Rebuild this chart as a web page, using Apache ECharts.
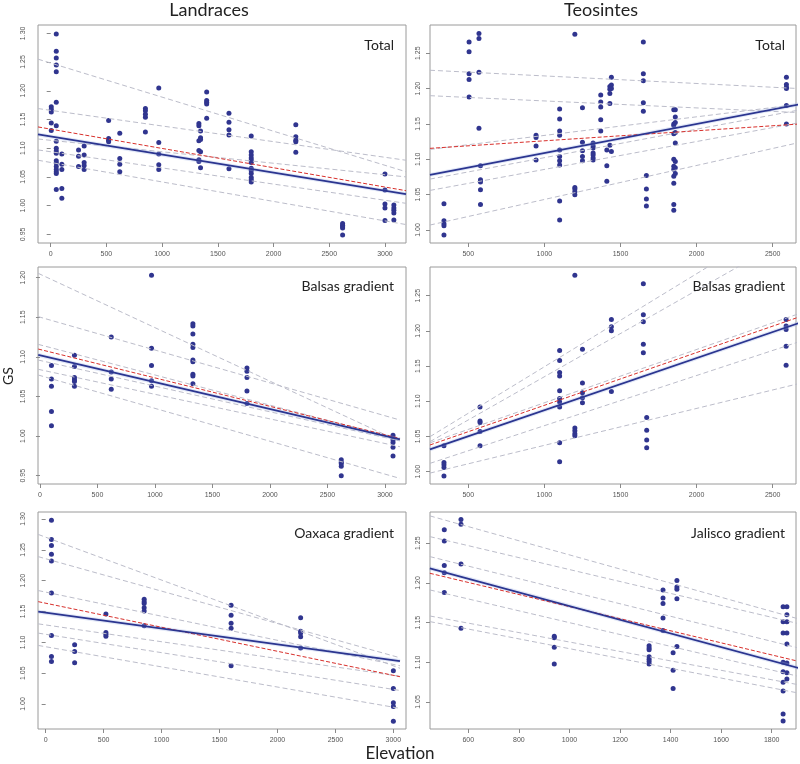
<!DOCTYPE html>
<html>
<head>
<meta charset="utf-8">
<script src="https://cdn.jsdelivr.net/npm/echarts@6/dist/echarts.min.js"></script>
<style>html,body{margin:0;padding:0;background:#fff;}#c{width:800px;height:764px;}</style>
</head>
<body>
<div id="c"></div>
<script>
// ---------- DATA ----------
// Landraces – Total
const landTotalElev = [5, 50, 100, 250, 300, 520, 620, 850, 970, 1330, 1345, 1400, 1600, 1800, 2200, 2620, 3000, 3080];
const landTotalGS = [
  [1.172, 1.168, 1.163, 1.144, 1.131],
  [1.299, 1.269, 1.257, 1.245, 1.233, 1.180, 1.139, 1.112, 1.100, 1.095, 1.091, 1.078, 1.074, 1.068, 1.063, 1.059, 1.056, 1.028],
  [1.090, 1.072, 1.063, 1.030, 1.013],
  [1.097, 1.086, 1.068],
  [1.104, 1.088, 1.075, 1.070, 1.063],
  [1.148, 1.117, 1.114, 1.111],
  [1.126, 1.082, 1.072, 1.059],
  [1.169, 1.165, 1.159, 1.154, 1.128],
  [1.205, 1.110, 1.090, 1.071, 1.063],
  [1.143, 1.139, 1.113, 1.096, 1.080, 1.077],
  [1.130, 1.118, 1.115, 1.094, 1.066],
  [1.198, 1.183, 1.180, 1.177, 1.152],
  [1.161, 1.145, 1.132, 1.123, 1.064],
  [1.121, 1.094, 1.088, 1.083, 1.079, 1.075, 1.065, 1.061, 1.056, 1.049, 1.045, 1.041],
  [1.141, 1.120, 1.114, 1.111, 1.093],
  [0.969, 0.966, 0.963, 0.961, 0.949],
  [1.055, 1.027, 1.003, 0.996, 0.974],
  [1.001, 0.996, 0.992, 0.987, 0.975]
];
const landTotalBlue = [[-114, 1.124], [3189, 1.020]];
const landTotalRed = [[-114, 1.137], [3189, 1.026]];
const landTotalGrey = [
  [[-114, 1.255], [3189, 1.059]],
  [[-114, 1.169], [3189, 1.079]],
  [[-114, 1.116], [3189, 1.050]],
  [[-114, 1.097], [3189, 1.004]],
  [[-114, 1.079], [3189, 0.967]]
];

// Teosintes – Total
const teoTotalElev = [340, 505, 570, 580, 945, 1100, 1200, 1250, 1320, 1370, 1410, 1430, 1440, 1650, 1670, 1850, 1860, 2590];
const teoTotalGS = [
  [1.037, 1.013, 1.009, 1.006, 0.993],
  [1.266, 1.252, 1.221, 1.213, 1.188],
  [1.278, 1.271, 1.223, 1.144],
  [1.091, 1.071, 1.068, 1.057, 1.036],
  [1.134, 1.131, 1.119, 1.099],
  [1.171, 1.157, 1.140, 1.134, 1.113, 1.104, 1.098, 1.092, 1.041, 1.014],
  [1.277, 1.060, 1.058, 1.054, 1.050],
  [1.173, 1.124, 1.112, 1.104, 1.098],
  [1.123, 1.119, 1.116, 1.109, 1.106, 1.102, 1.099],
  [1.191, 1.181, 1.174, 1.156, 1.140],
  [1.113, 1.091, 1.069],
  [1.203, 1.199, 1.193, 1.179, 1.120],
  [1.216, 1.205, 1.200, 1.111],
  [1.266, 1.221, 1.211, 1.180, 1.168],
  [1.077, 1.058, 1.044, 1.034],
  [1.170, 1.150, 1.148, 1.136, 1.100, 1.090, 1.086, 1.076, 1.066, 1.036, 1.028],
  [1.170, 1.160, 1.152, 1.138, 1.123, 1.097, 1.088, 1.080],
  [1.216, 1.206, 1.202, 1.200, 1.176, 1.150]
];
const teoTotalBlue = [[248, 1.078], [2680, 1.178]];
const teoTotalRed = [[248, 1.1155], [2680, 1.150]];
const teoTotalGrey = [
  [[248, 1.226], [2680, 1.200]],
  [[248, 1.190], [2680, 1.166]],
  [[248, 1.114], [2680, 1.178]],
  [[248, 1.072], [2680, 1.170]],
  [[248, 1.056], [2680, 1.152]],
  [[248, 1.007], [2680, 1.124]]
];

// Landraces – Balsas gradient
const landBalsasElev = [100, 300, 620, 970, 1330, 1800, 2620, 3070];
const landBalsasGS = [
  [1.089, 1.072, 1.063, 1.031, 1.013],
  [1.102, 1.088, 1.074, 1.071, 1.069, 1.063],
  [1.125, 1.081, 1.072, 1.059],
  [1.203, 1.111, 1.089, 1.070, 1.063],
  [1.142, 1.139, 1.129, 1.116, 1.112, 1.096, 1.094, 1.078, 1.076, 1.066],
  [1.086, 1.082, 1.074, 1.057, 1.041],
  [0.970, 0.967, 0.965, 0.962, 0.950],
  [1.001, 0.998, 0.995, 0.992, 0.986, 0.975]
];
const landBalsasBlue = [[-15, 1.1024], [3130, 0.9959]];
const landBalsasRed = [[-15, 1.1099], [3130, 0.997]];
const landBalsasGrey = [
  [[-15, 1.2055], [3130, 0.993]],
  [[-15, 1.1508], [3130, 1.0203]],
  [[-15, 1.1158], [3130, 0.996]],
  [[-15, 1.096], [3130, 0.994]],
  [[-15, 1.0843], [3130, 0.9866]],
  [[-15, 1.0771], [3130, 0.9466]]
];

// Teosintes – Balsas gradient
const teoBalsasElev = [340, 577, 1100, 1200, 1250, 1440, 1650, 1672, 2588];
const teoBalsasGS = [
  [1.037, 1.013, 1.010, 1.006, 0.994],
  [1.092, 1.072, 1.070, 1.057, 1.037],
  [1.172, 1.158, 1.141, 1.136, 1.115, 1.104, 1.099, 1.092, 1.041, 1.014],
  [1.279, 1.062, 1.058, 1.054, 1.051],
  [1.174, 1.126, 1.112, 1.105, 1.098],
  [1.216, 1.206, 1.200, 1.114],
  [1.267, 1.223, 1.213, 1.181, 1.169],
  [1.077, 1.059, 1.045, 1.034],
  [1.216, 1.207, 1.202, 1.178, 1.151]
];
const teoBalsasBlue = [[248, 1.0317], [2680, 1.2116]];
const teoBalsasRed = [[248, 1.0379], [2680, 1.2202]];
const teoBalsasGrey = [
  [[248, 1.0497], [2680, 1.371]],
  [[248, 1.0426], [2680, 1.341]],
  [[248, 1.041], [2680, 1.225]],
  [[248, 1.0118], [2680, 1.185]],
  [[248, 0.998], [2680, 1.1255]]
];

// Landraces – Oaxaca gradient
const landOaxacaElev = [50, 250, 520, 850, 1600, 2200, 3000];
const landOaxacaGS = [
  [1.298, 1.267, 1.257, 1.243, 1.232, 1.180, 1.111, 1.077, 1.069],
  [1.096, 1.085, 1.067],
  [1.146, 1.116, 1.113, 1.110],
  [1.170, 1.166, 1.163, 1.156, 1.151, 1.127],
  [1.160, 1.144, 1.131, 1.123, 1.062],
  [1.140, 1.118, 1.115, 1.109, 1.091],
  [1.054, 1.025, 1.002, 0.996, 0.972]
];
const landOaxacaBlue = [[-64, 1.1497], [3057, 1.0697]];
const landOaxacaRed = [[-64, 1.166], [3057, 1.0443]];
const landOaxacaGrey = [
  [[-64, 1.275], [3057, 1.058]],
  [[-64, 1.239], [3057, 1.075]],
  [[-64, 1.184], [3057, 1.062]],
  [[-64, 1.130], [3057, 1.045]],
  [[-64, 1.115], [3057, 1.022]],
  [[-64, 1.095], [3057, 0.993]]
];

// Teosintes – Jalisco gradient
const teoJaliscoElev = [505, 571, 940, 1315, 1370, 1410, 1425, 1845, 1860];
const teoJaliscoGS = [
  [1.267, 1.253, 1.222, 1.213, 1.188],
  [1.280, 1.274, 1.224, 1.143],
  [1.133, 1.131, 1.119, 1.098],
  [1.121, 1.118, 1.116, 1.107, 1.104, 1.101, 1.098],
  [1.191, 1.181, 1.174, 1.156, 1.140],
  [1.112, 1.090, 1.067],
  [1.203, 1.195, 1.192, 1.180, 1.120],
  [1.170, 1.151, 1.137, 1.100, 1.088, 1.075, 1.064, 1.035, 1.026],
  [1.170, 1.160, 1.151, 1.137, 1.123, 1.099, 1.087, 1.079]
];
const teoJaliscoBlue = [[448, 1.2185], [1912, 1.0924]];
const teoJaliscoRed = [[448, 1.2122], [1912, 1.1008]];
const teoJaliscoGrey = [
  [[448, 1.2845], [1912, 1.1542]],
  [[448, 1.2584], [1912, 1.1483]],
  [[448, 1.2332], [1912, 1.1176]],
  [[448, 1.1912], [1912, 1.0819]],
  [[448, 1.1584], [1912, 1.0714]],
  [[448, 1.1513], [1912, 1.0609]]
];

// Tick labels
const xTicksLand = [0, 500, 1000, 1500, 2000, 2500, 3000];
const xTicksTeo = [500, 1000, 1500, 2000, 2500];
const xTicksJalisco = [600, 800, 1000, 1200, 1400, 1600, 1800];
const yTicksLandTotal = [0.95, 1.00, 1.05, 1.10, 1.15, 1.20, 1.25, 1.30];
const yTicksTeoTotal = [1.00, 1.05, 1.10, 1.15, 1.20, 1.25];
const yTicksLandBalsas = [0.95, 1.00, 1.05, 1.10, 1.15, 1.20];
const yTicksTeoBalsas = [1.00, 1.05, 1.10, 1.15, 1.20, 1.25];
const yTicksLandOaxaca = [1.00, 1.05, 1.10, 1.15, 1.20, 1.25, 1.30];
const yTicksTeoJalisco = [1.05, 1.10, 1.15, 1.20, 1.25];

const columnTitles = ['Landraces', 'Teosintes'];
const panelLabels = ['Total', 'Total', 'Balsas gradient', 'Balsas gradient', 'Oaxaca gradient', 'Jalisco gradient'];
const yAxisName = 'GS';
const xAxisName = 'Elevation';

// ---------- BUILD ----------
const panels = [
  {elev: landTotalElev, gs: landTotalGS, blue: landTotalBlue, red: landTotalRed, grey: landTotalGrey,
   xr: [-114, 3189], yr: [0.9349, 1.3145], xt: xTicksLand, yt: yTicksLandTotal},
  {elev: teoTotalElev, gs: teoTotalGS, blue: teoTotalBlue, red: teoTotalRed, grey: teoTotalGrey,
   xr: [248.3, 2653], yr: [0.9816, 1.290], xt: xTicksTeo, yt: yTicksTeoTotal},
  {elev: landBalsasElev, gs: landBalsasGS, blue: landBalsasBlue, red: landBalsasRed, grey: landBalsasGrey,
   xr: [-17, 3183], yr: [0.9395, 1.2135], xt: xTicksLand, yt: yTicksLandBalsas},
  {elev: teoBalsasElev, gs: teoBalsasGS, blue: teoBalsasBlue, red: teoBalsasRed, grey: teoBalsasGrey,
   xr: [248.3, 2653], yr: [0.9825, 1.2907], xt: xTicksTeo, yt: yTicksTeoBalsas},
  {elev: landOaxacaElev, gs: landOaxacaGS, blue: landOaxacaBlue, red: landOaxacaRed, grey: landOaxacaGrey,
   xr: [-66, 3109], yr: [0.9595, 1.3114], xt: xTicksLand, yt: yTicksLandOaxaca},
  {elev: teoJaliscoElev, gs: teoJaliscoGS, blue: teoJaliscoBlue, red: teoJaliscoRed, grey: teoJaliscoGrey,
   xr: [448.5, 1896], yr: [1.016, 1.2894], xt: xTicksJalisco, yt: yTicksTeoJalisco}
];

const colLeft = [38, 430], colWidth = [368, 366];
const rowTop = [25, 267, 512], rowHeight = [218, 217, 217];

const grids = [], xAxes = [], yAxes = [], series = [], graphics = [];
const tickColor = '#8a8a8a', labelColor = '#555';

panels.forEach((p, i) => {
  const col = i % 2, row = Math.floor(i / 2);
  grids.push({left: colLeft[col], top: rowTop[row], width: colWidth[col], height: rowHeight[row],
    show: true, borderColor: '#9a9a9a', borderWidth: 1, backgroundColor: 'transparent', containLabel: false});
  xAxes.push({type: 'value', gridIndex: i, min: p.xr[0], max: p.xr[1],
    axisLine: {show: false}, splitLine: {show: false},
    axisTick: {show: true, length: 4, lineStyle: {color: tickColor}, customValues: p.xt},
    axisLabel: {customValues: p.xt, fontSize: 7, color: labelColor, margin: 8, fontFamily: 'Liberation Sans',
      formatter: v => String(Math.round(v))}});
  yAxes.push({type: 'value', gridIndex: i, min: p.yr[0], max: p.yr[1],
    axisLine: {show: false}, splitLine: {show: false},
    axisTick: {show: true, length: 4, lineStyle: {color: tickColor}, customValues: p.yt},
    axisLabel: {customValues: p.yt, fontSize: 7, color: labelColor, rotate: 90,
      margin: col === 0 ? 11 : 8, fontFamily: 'Liberation Sans',
      formatter: v => Number(v).toFixed(2)}});
  const pts = [];
  p.elev.forEach((e, k) => p.gs[k].forEach(g => pts.push([e, g])));
  series.push({type: 'scatter', xAxisIndex: i, yAxisIndex: i, data: pts, symbol: 'circle', symbolSize: 5,
    itemStyle: {color: '#30358f', opacity: 1}, z: 2, silent: true});
  p.grey.forEach(g => series.push({type: 'line', xAxisIndex: i, yAxisIndex: i, data: g, symbol: 'none',
    clip: true, lineStyle: {color: '#bcbdca', width: 1, type: [5, 3]}, z: 3, silent: true}));
  series.push({type: 'line', xAxisIndex: i, yAxisIndex: i, data: p.blue, symbol: 'none', clip: true,
    lineStyle: {color: 'rgba(160,178,228,0.3)', width: 4}, z: 3, silent: true});
  series.push({type: 'line', xAxisIndex: i, yAxisIndex: i, data: p.red, symbol: 'none', clip: true,
    lineStyle: {color: '#d8302c', width: 1, type: [4, 2]}, z: 4, silent: true});
  series.push({type: 'line', xAxisIndex: i, yAxisIndex: i, data: p.blue, symbol: 'none', clip: true,
    lineStyle: {color: '#2b3590', width: 1.8}, z: 5, silent: true});
});

const labelRight = [394, 785], labelY = [45, 286, 533];
panelLabels.forEach((t, i) => {
  const col = i % 2, row = Math.floor(i / 2);
  graphics.push({type: 'text', x: labelRight[col], y: labelY[row], z: 10,
    style: {text: t, fontSize: 14, fontFamily: 'Lato', fill: '#222', align: 'right', verticalAlign: 'middle',
      textAlign: 'right', textVerticalAlign: 'middle'}});
});
graphics.push({type: 'text', x: 209, y: 10, style: {text: columnTitles[0], fontSize: 18, fontFamily: 'Lato', fill: '#222',
  align: 'center', verticalAlign: 'middle', textAlign: 'center', textVerticalAlign: 'middle'}});
graphics.push({type: 'text', x: 601, y: 10, style: {text: columnTitles[1], fontSize: 18, fontFamily: 'Lato', fill: '#222',
  align: 'center', verticalAlign: 'middle', textAlign: 'center', textVerticalAlign: 'middle'}});
graphics.push({type: 'text', x: 8, y: 376, rotation: Math.PI / 2, style: {text: yAxisName, fontSize: 14, fontFamily: 'Lato', fill: '#222',
  align: 'center', verticalAlign: 'middle', textAlign: 'center', textVerticalAlign: 'middle'}});
graphics.push({type: 'text', x: 400, y: 754, style: {text: xAxisName, fontSize: 17, fontFamily: 'Lato', fill: '#222',
  align: 'center', verticalAlign: 'middle', textAlign: 'center', textVerticalAlign: 'middle'}});

const chart = echarts.init(document.getElementById('c'), null, {renderer: 'canvas'});
chart.setOption({
  backgroundColor: '#fff',
  animation: false,
  grid: grids, xAxis: xAxes, yAxis: yAxes, series: series, graphic: graphics
});
</script>
</body>
</html>
